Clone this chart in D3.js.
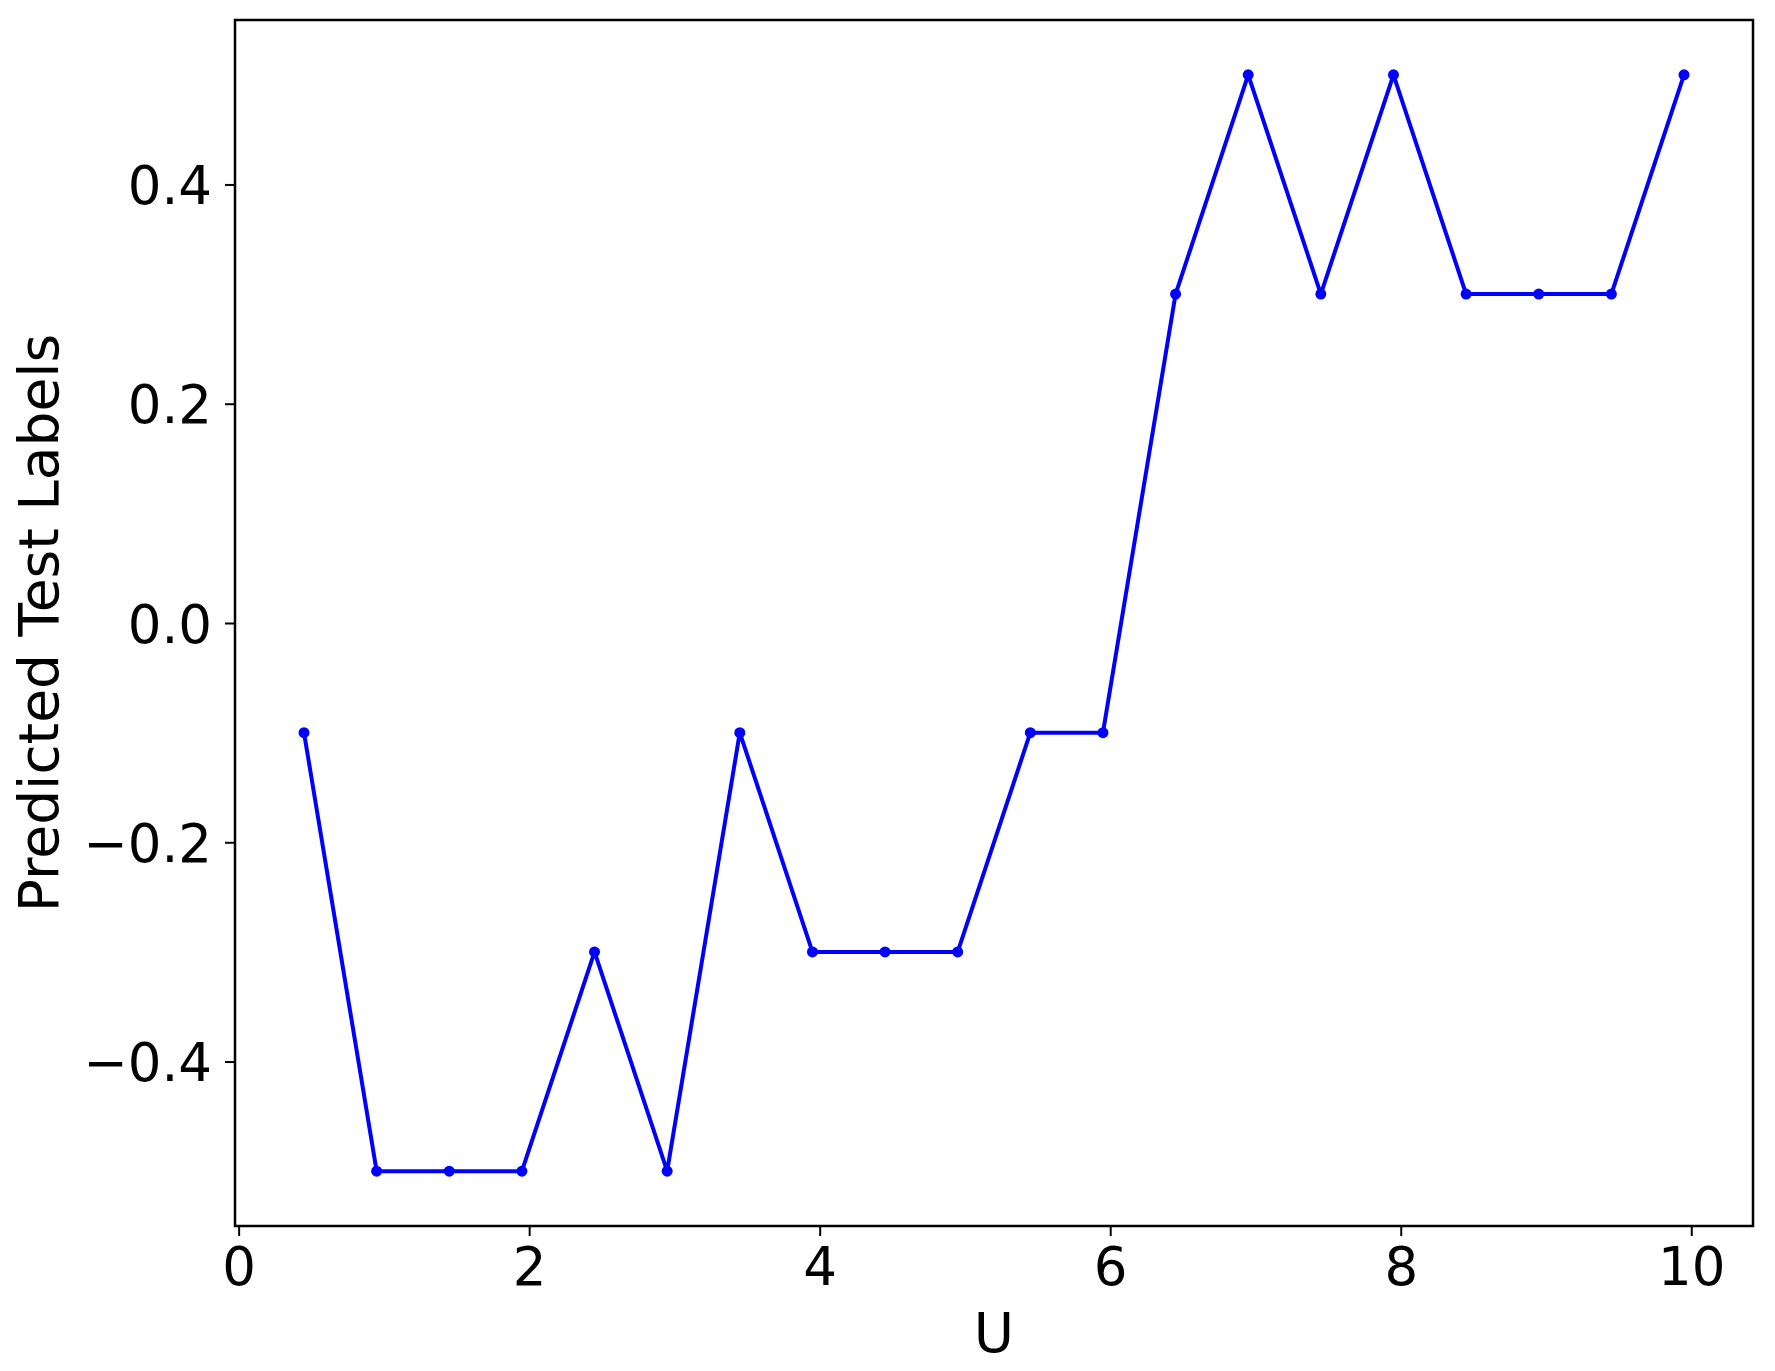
<!DOCTYPE html>
<html>
<head>
<meta charset="utf-8">
<script src="https://cdn.jsdelivr.net/npm/d3@7"></script>
<style>
  html, body { margin: 0; padding: 0; background: #fff; }
  svg { display: block; }
  text { font-family: "DejaVu Sans", sans-serif; fill: #000; }
</style>
</head>
<body>
<svg id="chart" width="1775" height="1371"></svg>
<script>
const uValues = [0.45, 0.95, 1.45, 1.95, 2.45, 2.95, 3.45, 3.95, 4.45, 4.95,
                 5.45, 5.95, 6.45, 6.95, 7.45, 7.95, 8.45, 8.95, 9.45, 9.95];
const predictedLabels = [-0.1, -0.5, -0.5, -0.5, -0.3, -0.5, -0.1, -0.3, -0.3, -0.3,
                         -0.1, -0.1, 0.3, 0.5, 0.3, 0.5, 0.3, 0.3, 0.3, 0.5];
const xTicks = [0, 2, 4, 6, 8, 10];
const yTicks = [-0.4, -0.2, 0.0, 0.2, 0.4];
const xTitle = "U";
const yTitle = "Predicted Test Labels";

const mLeft = 235, mRight = 1753, mTop = 20, mBottom = 1226;
const svg = d3.select("#chart");

const x = d3.scaleLinear().domain([-0.025, 10.425]).range([mLeft, mRight]);
const y = d3.scaleLinear().domain([-0.55, 0.55]).range([mBottom, mTop]);

const fmtY = d => (d < 0 ? "\u2212" : "") + Math.abs(d).toFixed(1);

const xAxis = svg.append("g")
  .attr("transform", `translate(0,${mBottom})`)
  .call(d3.axisBottom(x).tickValues(xTicks).tickFormat(d3.format("d")).tickSize(10).tickPadding(11));
const yAxis = svg.append("g")
  .attr("transform", `translate(${mLeft},0)`)
  .call(d3.axisLeft(y).tickValues(yTicks).tickFormat(fmtY).tickSize(10).tickPadding(13));

[xAxis, yAxis].forEach(g => {
  g.select(".domain").remove();
  g.selectAll(".tick line").attr("stroke", "#000").attr("stroke-width", 2);
  g.selectAll(".tick text").attr("font-size", 53).attr("font-family", "DejaVu Sans").attr("fill", "#000");
});
yAxis.selectAll(".tick text").attr("dy", "0.36em");

// frame
svg.append("rect")
  .attr("x", mLeft).attr("y", mTop)
  .attr("width", mRight - mLeft).attr("height", mBottom - mTop)
  .attr("fill", "none").attr("stroke", "#000").attr("stroke-width", 2.5);

const pts = uValues.map((u, i) => [u, predictedLabels[i]]);
svg.append("path")
  .datum(pts)
  .attr("fill", "none")
  .attr("stroke", "#0000ff")
  .attr("stroke-width", 4)
  .attr("stroke-linejoin", "round")
  .attr("d", d3.line().x(d => x(d[0])).y(d => y(d[1])));

svg.append("g").selectAll("circle")
  .data(pts).join("circle")
  .attr("cx", d => x(d[0])).attr("cy", d => y(d[1]))
  .attr("r", 5.5).attr("fill", "#0000ff");

svg.append("text")
  .attr("x", (mLeft + mRight) / 2).attr("y", 1352)
  .attr("text-anchor", "middle").attr("font-size", 55)
  .text(xTitle);

svg.append("text")
  .attr("transform", `translate(58,${(mTop + mBottom) / 2}) rotate(-90)`)
  .attr("text-anchor", "middle").attr("font-size", 55)
  .text(yTitle);
</script>
</body>
</html>
